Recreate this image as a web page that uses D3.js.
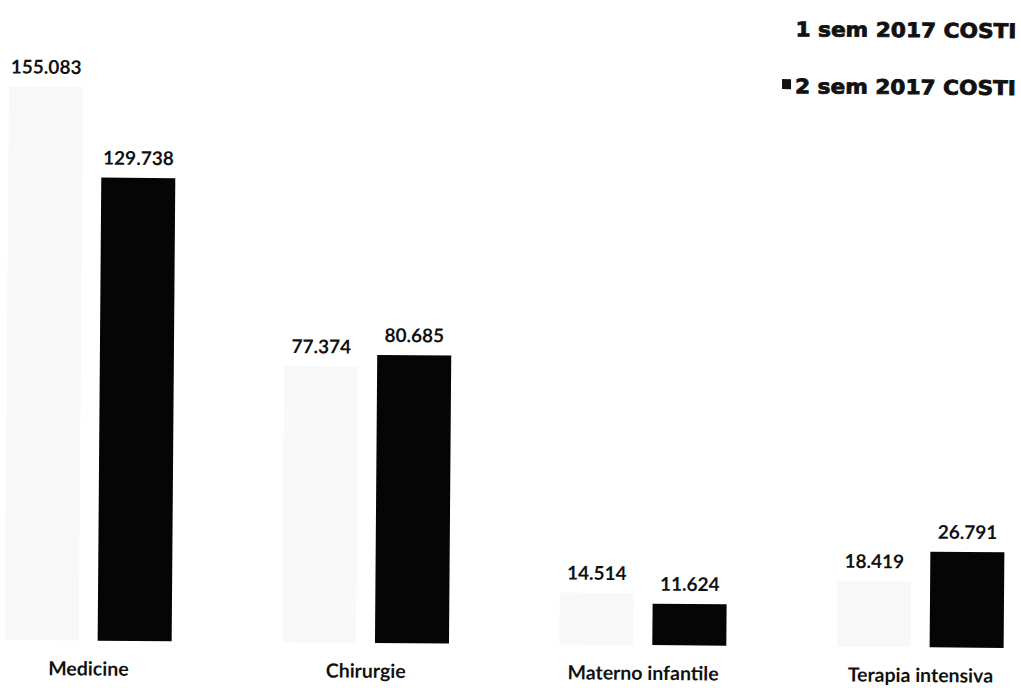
<!DOCTYPE html>
<html>
<head>
<meta charset="utf-8">
<script src="https://cdn.jsdelivr.net/npm/d3@7"></script>
<style>
  html, body { margin: 0; padding: 0; background: #fff; }
  svg { display: block; }
</style>
</head>
<body>
<svg id="chart" width="1021" height="688"></svg>
<script>
// Costs by department, first and second half of 2017
const categories = ["Medicine", "Chirurgie", "Materno infantile", "Terapia intensiva"];
const seriesNames = ["1 sem 2017 COSTI", "2 sem 2017 COSTI"];
const sem1Values = [155.083, 77.374, 14.514, 18.419];
const sem2Values = [129.738, 80.685, 11.624, 26.791];
const valueLabels1 = ["155.083", "77.374", "14.514", "18.419"];
const valueLabels2 = ["129.738", "80.685", "11.624", "26.791"];

const W = 1021, H = 688;
const baseline = 644;
const pxPerUnit = 3.57;

const svg = d3.select("#chart");
// the printed page sits very slightly askew
const g = svg.append("g").attr("transform", `rotate(0.45 ${W / 2} ${H / 2})`);

const x0 = d3.scalePoint().domain(categories).range([90.5, 922.5]);
const x1 = d3.scaleBand().domain(seriesNames).range([-83.5, 83.5]).paddingInner(0.204);
const y = d3.scaleLinear().domain([0, 160]).range([baseline, baseline - 160 * pxPerUnit]);

const colors = { [seriesNames[0]]: "#f8f8f8", [seriesNames[1]]: "#050505" };

const rows = categories.map((c, i) => ({
  cat: c,
  bars: [
    { s: seriesNames[0], v: sem1Values[i], label: valueLabels1[i] },
    { s: seriesNames[1], v: sem2Values[i], label: valueLabels2[i] }
  ]
}));

const groups = g.selectAll("g.cat").data(rows).join("g")
  .attr("class", "cat")
  .attr("transform", d => `translate(${x0(d.cat)},0)`);

groups.selectAll("rect").data(d => d.bars).join("rect")
  .attr("x", d => x1(d.s))
  .attr("width", x1.bandwidth())
  .attr("y", d => y(d.v))
  .attr("height", d => y(0) - y(d.v))
  .attr("fill", d => colors[d.s]);

groups.selectAll("text.val").data(d => d.bars).join("text")
  .attr("class", "val")
  .attr("x", d => x1(d.s) + x1.bandwidth() / 2)
  .attr("y", d => y(d.v) - 13)
  .attr("text-anchor", "middle")
  .attr("font-family", "Lato, 'Open Sans', sans-serif")
  .attr("font-weight", 700)
  .attr("font-size", 19)
  .attr("fill", "#111")
  .text(d => d.label);

// category axis labels
const xAxis = d3.axisBottom(x0).tickSize(0).tickPadding(0);
const axisG = g.append("g").attr("transform", `translate(0,${baseline + 21})`).call(xAxis);
axisG.select(".domain").remove();
axisG.selectAll("text")
  .attr("font-family", "Lato, 'Open Sans', sans-serif")
  .attr("font-weight", 700)
  .attr("font-size", 19.5)
  .attr("fill", "#111");

// legend: heavy, wide lettering right-aligned at the page edge
const legend = g.append("g").attr("class", "legend");
const legendY = [34, 91];
const legendRight = 1014;
seriesNames.forEach((s, i) => {
  legend.append("rect")
    .attr("x", 780).attr("y", legendY[i] - 14)
    .attr("width", 9).attr("height", 10)
    .attr("fill", i === 0 ? "#fff" : "#111");
  const t = legend.append("text")
    .attr("x", 0).attr("y", 0)
    .attr("font-family", "'DejaVu Sans', sans-serif")
    .attr("font-weight", 700)
    .attr("font-size", 20)
    .attr("fill", "#111")
    .attr("stroke", "#111")
    .attr("stroke-width", 0.8)
    .text(s);
  const natural = t.node().getComputedTextLength();
  const target = legendRight - 793;
  t.attr("transform", `translate(793,${legendY[i]}) scale(${target / natural},1)`);
});
</script>
</body>
</html>
